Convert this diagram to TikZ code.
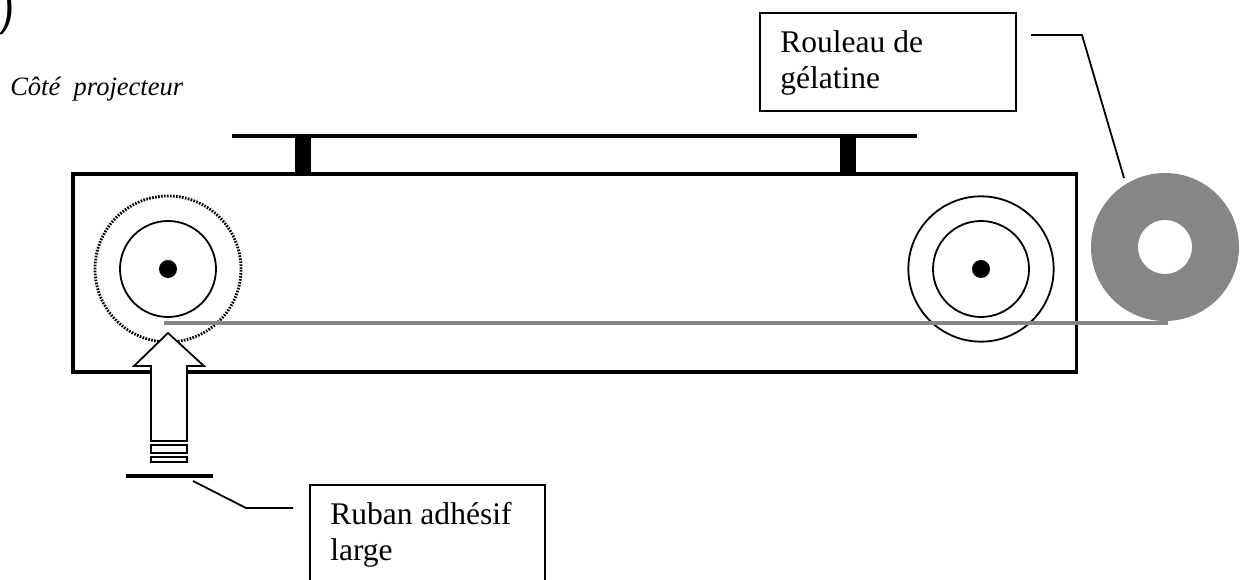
\documentclass[tikz,border=0pt]{standalone}
\usepackage{fontspec}
\setmainfont{Liberation Serif}
\tikzset{
  x=0.75pt,y=-0.75pt,
  heavy/.style={line width=2.6pt,draw=black},
  thin line/.style={line width=1.35pt,draw=black},
  wheel/.style={circle,draw=black,line width=1.35pt,fill=none,inner sep=0pt},
  hub/.style={circle,fill=black,draw=none,minimum size=13.5pt,inner sep=0pt},
  label box/.style={draw=black,line width=1.35pt,anchor=north west,inner sep=0pt},
  label text/.style={anchor=base west,inner sep=0pt,font=\fontsize{23.65pt}{27pt}\selectfont},
  gelatin/.style={draw=grayroll,line width=3pt},
}
\definecolor{grayroll}{HTML}{868686}
\begin{document}
\begin{tikzpicture}
\useasboundingbox (0,0) rectangle (1240,580);
\clip (0,0) rectangle (1240,580);
\fill[white] (0,0) rectangle (1240,580);
% stray parenthesis
\node[anchor=base east,inner sep=0pt,font=\sffamily\fontsize{40pt}{40pt}\selectfont] (paren) at (16,22) {)};
% caption
\node[anchor=base west,inner sep=0pt,font=\itshape\fontsize{19.9pt}{22pt}\selectfont] (side) at (10,96) {Côté\ \ projecteur};
% top bar
\coordinate (barL) at (232,136);
\coordinate (barR) at (917,136);
\draw[line width=3pt] (barL) -- (barR);
\fill (295,136) rectangle (311,175);
\fill (840,136) rectangle (856,175);
% frame
\draw[heavy] (73,174) rectangle (1076.5,372);
% reels
\node[wheel,minimum size=72pt] (reelA) at (168,269) {};
\node[hub] (hubA) at (168,269) {};
\node[circle,draw=black,line width=2.1pt,dash pattern=on 1.25pt off 1pt,minimum size=109.5pt,inner sep=0pt] (reelAo) at (168,269) {};
\node[wheel,minimum size=72pt] (reelB) at (981,269) {};
\node[wheel,minimum size=109pt] (reelBo) at (981,269) {};
\node[hub] (hubB) at (981,269) {};
% roll
\fill[grayroll,even odd rule] (1165,247) circle[radius=55.5pt] (1165,247) circle[radius=20.3pt];
\coordinate (roll) at (1124,178);
% gelatin strip
\coordinate (gelA) at (164,322.7);
\coordinate (gelB) at (1168,322.7);
\draw[gelatin] (gelA) -- (gelB);
% arrow
\draw[thin line,fill=white,line join=miter] (168,333) -- (204,366) -- (187,366) -- (187,441) -- (151,441) -- (151,366) -- (134,366) -- cycle;
\draw[thin line] (151,445) rectangle (187,453);
\draw[thin line] (151,457) rectangle (187,462);
% tape
\coordinate (tapeL) at (126,476);
\coordinate (tapeR) at (213,476);
\draw[line width=3pt] (tapeL) -- (tapeR);
% boxes
\node[label box,minimum width=192pt,minimum height=73.5pt] (rouleauBox) at (759,12) {};
\node[label text] (rouleau) at (780,53) {\vtop{\hbox{Rouleau de}\hbox{gélatine}}};
\node[label box,minimum width=176.2pt,minimum height=90pt] (rubanBox) at (309,484) {};
\node[label text] (ruban) at (330,525) {\vtop{\hbox{Ruban adhésif}\hbox{large}}};
% leaders
\coordinate (l1a) at (1031,35);
\coordinate (l1b) at (1082,35);
\draw[thin line] (l1a) -- (l1b) -- (roll);
\coordinate (l2a) at (193,481);
\coordinate (l2b) at (246,508);
\coordinate (l2c) at (293,508);
\draw[thin line] (l2a) -- (l2b) -- (l2c);
\end{tikzpicture}
\end{document}
